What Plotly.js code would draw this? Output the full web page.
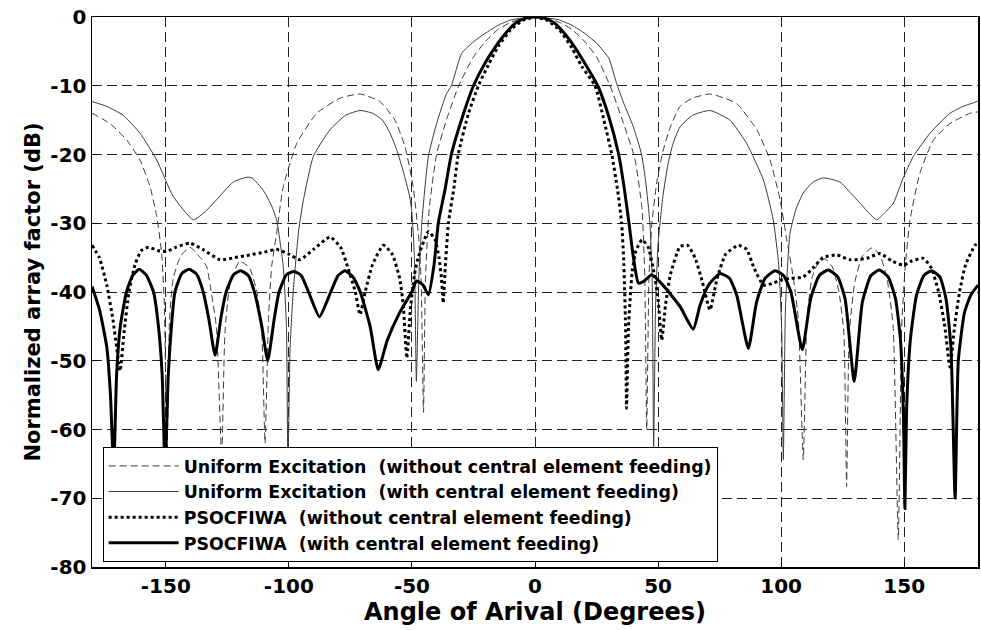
<!DOCTYPE html>
<html>
<head>
<meta charset="utf-8">
<script src="https://cdn.plot.ly/plotly-3.0.1.min.js"></script>
<style>html,body{margin:0;padding:0;background:#fff;}#chart{width:981px;height:630px;}</style>
</head>
<body>
<div id="chart"></div>
<script>
// Uniform excitation without central element feeding (dashed)
const uniN_x = [-180,-172.7,-165.9,-160.5,-156.4,-153.7,-151.7,-150.6,-149.5,-148.5,-147,-144,-140.2,-136,-133.4,-132,-129.5,-127.3,-126,-124,-120,-116,-113,-111,-109.7,-108.3,-107,-105,-102.3,-96.8,-88.7,-79.2,-71.1,-63,-56.9,-52.8,-49.5,-47.4,-46.3,-45.3,-44.5,-43,-40,-36,-31,-25,-20,-15,-10,-5,0,5,10,15,20,25,30.5,36,40.5,43.5,44.6,45.4,46.3,47.5,49.5,52,55,58.9,64,71.1,77,82,90.1,95.5,99.6,102.3,105,107,109,110.5,112.5,115,118,121,123.5,125.5,126.6,127.7,130,133,136.8,140,143,145.5,147.6,149,150.5,152.4,156.4,161.9,168.6,176.8,180];
const uniN_y = [-14,-15.5,-17.9,-20.8,-24.7,-29,-34.4,-42,-64,-44,-38,-34.8,-33.5,-35,-36.3,-39,-45,-64,-46,-39,-35.5,-36.5,-40,-46,-62,-44,-36.3,-31.5,-24.7,-18.4,-14,-11.8,-11.2,-12.3,-15,-18.9,-24.7,-31.5,-38,-57.5,-38,-28,-20,-15,-10,-5.8,-3.5,-1.8,-0.8,-0.2,0,-0.2,-0.8,-1.8,-3.5,-5.8,-10,-15.5,-20.5,-28,-38,-60,-38,-30,-24,-19.5,-16,-13,-11.8,-11.2,-11.8,-12.6,-16.4,-20.8,-26.6,-32.4,-38,-44,-64.4,-44,-38,-35.8,-35.2,-36.5,-40,-46,-68.3,-46,-38.5,-34.8,-33.6,-34.5,-38,-45,-76,-45,-36,-29.5,-22.7,-17.9,-15.5,-14,-13.8];

// Uniform excitation with central element feeding (thin solid)
const uniC_x = [-180,-174,-167.3,-160.5,-153.7,-147,-138.8,-134,-130.7,-122.6,-117,-115,-110.4,-107,-105,-102.3,-101,-100.4,-99.5,-98.2,-96,-94.1,-90.1,-86,-83.3,-77,-71.1,-66,-62,-59,-56.2,-53.5,-51,-50.1,-49,-48.2,-47.2,-46,-44.5,-43.3,-40,-36,-34,-29.8,-25,-20.3,-15,-9.5,0,9.5,15,20.3,25,30,33,36,40,43.3,45,46.7,47.6,48.2,49,50,52,54,56,58.9,64,71.1,79.2,86,92.8,96.8,99,100.2,100.9,101.8,103.6,106,109,113,117.2,123.9,128,132.1,138.8,142,145.6,149.5,153.7,160.5,168.6,174,179.5,180];
const uniC_y = [-12.3,-13,-14.3,-16.9,-20.8,-26.1,-29.5,-28.3,-27.1,-24,-23.3,-23.4,-25.2,-27.5,-29.5,-36.3,-45,-66,-48,-39.7,-31,-26.6,-20.3,-17.8,-16.4,-14.3,-13.6,-14,-15,-16.8,-19.3,-22.5,-26,-28.1,-35,-53,-38,-30,-24,-20.2,-15.5,-11.2,-10,-5.3,-3.6,-2.4,-1.2,-0.4,0,-0.4,-1.2,-2.4,-3.8,-6,-9.5,-12.5,-16,-20,-24,-30,-38,-62.5,-42,-33,-26,-21.5,-18.5,-16,-14.3,-13.6,-15,-18.4,-23.7,-29.5,-36,-45,-64.4,-42,-31.5,-28,-25.6,-24,-23.4,-24,-25.5,-27.1,-29.5,-28.5,-27.1,-23.5,-20.3,-16.9,-14,-13,-12.3,-12.2];

// PSOCFIWA without central element feeding (dotted)
const psoN_x = [-180,-177,-174,-171.5,-170,-168.6,-167,-165,-162.5,-160,-157,-153,-149.7,-146,-140.2,-135,-128,-122,-115.8,-110,-105,-100,-95.5,-90,-83.3,-79,-76,-73,-71.1,-69,-66,-61.6,-58,-55,-53.5,-52.1,-50.5,-49,-47.4,-43.3,-40.6,-39,-38,-37.3,-36.6,-35.2,-33,-31.2,-27,-23,-19,-15,-10,-5,0,5,10,15,19,24.4,28,31.2,33.5,35.2,36,36.8,37.2,38,39.5,41,43.5,46,48,50,51.5,53,55,58.9,62,65,68,71.1,74,77.5,82.6,86,89,92.8,96,99.6,104,109,113,117,122.6,128,134.8,140.2,145,149.7,153,157.8,161,164,166.5,168.6,170.5,172.5,175,178.8,180];
const psoN_y = [-33.2,-35,-39,-44,-48,-51.5,-46,-40,-36,-34,-33.5,-34,-34.1,-33.5,-32.9,-33.8,-35.3,-35,-34.6,-34.2,-33.8,-34.5,-35.3,-33.8,-32,-33.5,-36.5,-40,-43.3,-40,-36,-33.2,-34.5,-38,-42,-49.6,-42,-37.5,-34.9,-31.2,-32.4,-35,-38,-41.6,-37.3,-30,-25,-20,-14,-10,-7,-4.3,-1.9,-0.5,0,-0.5,-1.9,-4.5,-7.2,-10,-15,-20,-25,-30,-35,-45,-56.9,-45,-37,-34,-32.4,-33.5,-36.5,-41,-47,-42,-37.5,-33.4,-33.2,-35,-38.5,-42.6,-38,-34.5,-33.2,-33.8,-36.5,-39,-38.8,-38.3,-38,-37.8,-36.5,-35,-34.6,-35.3,-35.1,-34.4,-35.5,-36.1,-35.5,-35.1,-36.5,-40,-45,-50.9,-45,-40,-36,-33.2,-33];

// PSOCFIWA with central element feeding (thick solid)
const psoC_x = [-180,-177,-174,-172.5,-171.2,-170,-168.5,-166,-163.5,-160.8,-158,-155,-153,-151.5,-150.3,-149,-147.5,-146.3,-143.5,-140.5,-137.5,-134.8,-132.5,-130,-127.5,-125.5,-122.5,-119.6,-116.5,-114,-111,-108.6,-106,-104,-101,-97.9,-95,-92,-87.6,-83,-80,-77.2,-74,-71,-67,-63.7,-60,-55,-50.1,-48.1,-45.5,-43.3,-41,-39.3,-36.5,-34,-29,-25,-20,-16,-12,-8,-4,0,4,8,12,16,20,25.5,30,34,36.3,38.2,40,42,44,47.4,52,58.9,64.3,67,70.5,75.2,79,82,86.7,90,93.5,97.5,101,104,108.6,112,115.5,119.2,123,126,129.7,133,136.5,139.9,143.5,146.5,148.5,149.7,150.3,151,152.5,155,158,161.2,164.5,167,169,170.7,172,174.5,177,180];
const psoC_y = [-39.2,-42.5,-48,-55,-66,-52,-45,-40,-37.6,-36.7,-37.5,-40,-45,-52,-66,-52,-44,-40,-37.3,-36.7,-37.4,-40,-44,-49.2,-43.5,-40,-37.5,-36.9,-37.6,-40,-45,-50,-44,-40,-37.5,-37,-37.6,-40,-43.6,-40,-37.6,-36.9,-37.8,-40,-45,-51.3,-47,-43,-40,-38.4,-39,-40.4,-36,-30,-25,-20,-14,-10,-6.5,-4.3,-2.4,-0.9,-0.2,0,-0.2,-0.9,-2.4,-4.3,-6.6,-10,-14.5,-20,-25,-30,-35,-38.7,-38.5,-37.5,-39,-42.1,-45.4,-42,-39,-37.3,-38,-40.5,-48.2,-41.5,-38,-36.9,-37.6,-40,-48.4,-41,-37.6,-36.8,-37.8,-41,-53,-41.5,-37.6,-36.8,-37.8,-41,-47,-58,-71.5,-57,-47,-40.5,-37.6,-36.9,-37.8,-41,-48,-70,-50,-43,-40.5,-39];

const names = [
  'Uniform Excitation \u00a0(without central element feeding)',
  'Uniform Excitation \u00a0(with central element feeding)',
  'PSOCFIWA \u00a0(without central element feeding)',
  'PSOCFIWA \u00a0(with central element feeding)'
];
const xTicks = [-150,-100,-50,0,50,100,150];
const yTicks = [-80,-70,-60,-50,-40,-30,-20,-10,0];

const FONT = 'DejaVu Sans, Verdana, sans-serif';
const traces = [
  {x: uniN_x, y: uniN_y, name: names[0], mode: 'lines', line: {color: '#3a3a3a', width: 1, dash: '7px,4px', shape: 'spline', smoothing: 0.5}},
  {x: uniC_x, y: uniC_y, name: names[1], mode: 'lines', line: {color: '#3a3a3a', width: 1, shape: 'spline', smoothing: 0.5}},
  {x: psoN_x, y: psoN_y, name: names[2], mode: 'lines', line: {color: '#000', width: 3, dash: 'dot', shape: 'spline', smoothing: 0.5}},
  {x: psoC_x, y: psoC_y, name: names[3], mode: 'lines', line: {color: '#000', width: 3, shape: 'spline', smoothing: 0.5}}
];

const axisFont = {family: FONT, size: 20, color: '#000', weight: 'bold'};
const layout = {
  width: 981, height: 630,
  margin: {l: 92, r: 3, t: 17, b: 63},
  paper_bgcolor: '#fff', plot_bgcolor: '#fff',
  showlegend: true,
  legend: {
    x: 0.012, y: 0.218, xanchor: 'left', yanchor: 'top',
    bgcolor: '#fff', bordercolor: '#000', borderwidth: 1,
    font: {family: FONT, size: 17.4, color: '#000', weight: 'bold'},
    tracegroupgap: 0, itemwidth: 70
  },
  xaxis: {
    range: [-180, 180], tickvals: xTicks, ticktext: xTicks.map(String),
    showgrid: true, gridcolor: '#222', gridwidth: 1, griddash: '10px,5px',
    zeroline: false, showline: true, linecolor: '#000', linewidth: 1.5, mirror: true,
    ticks: 'inside', ticklen: 5, tickcolor: '#000',
    tickfont: axisFont,
    title: {text: 'Angle of Arival (Degrees)', font: {family: FONT, size: 24, color: '#000', weight: 'bold'}, standoff: 6}
  },
  yaxis: {
    range: [-80, 0], tickvals: yTicks, ticktext: yTicks.map(String),
    showgrid: true, gridcolor: '#222', gridwidth: 1, griddash: '10px,5px',
    zeroline: false, showline: true, linecolor: '#000', linewidth: 1.5, mirror: true,
    ticks: 'inside', ticklen: 5, tickcolor: '#000',
    tickfont: axisFont,
    title: {text: 'Normalized array factor (dB)', font: {family: FONT, size: 21, color: '#000', weight: 'bold'}, standoff: 4}
  }
};

Plotly.newPlot('chart', traces, layout, {displayModeBar: false, staticPlot: true});
</script>
</body>
</html>
